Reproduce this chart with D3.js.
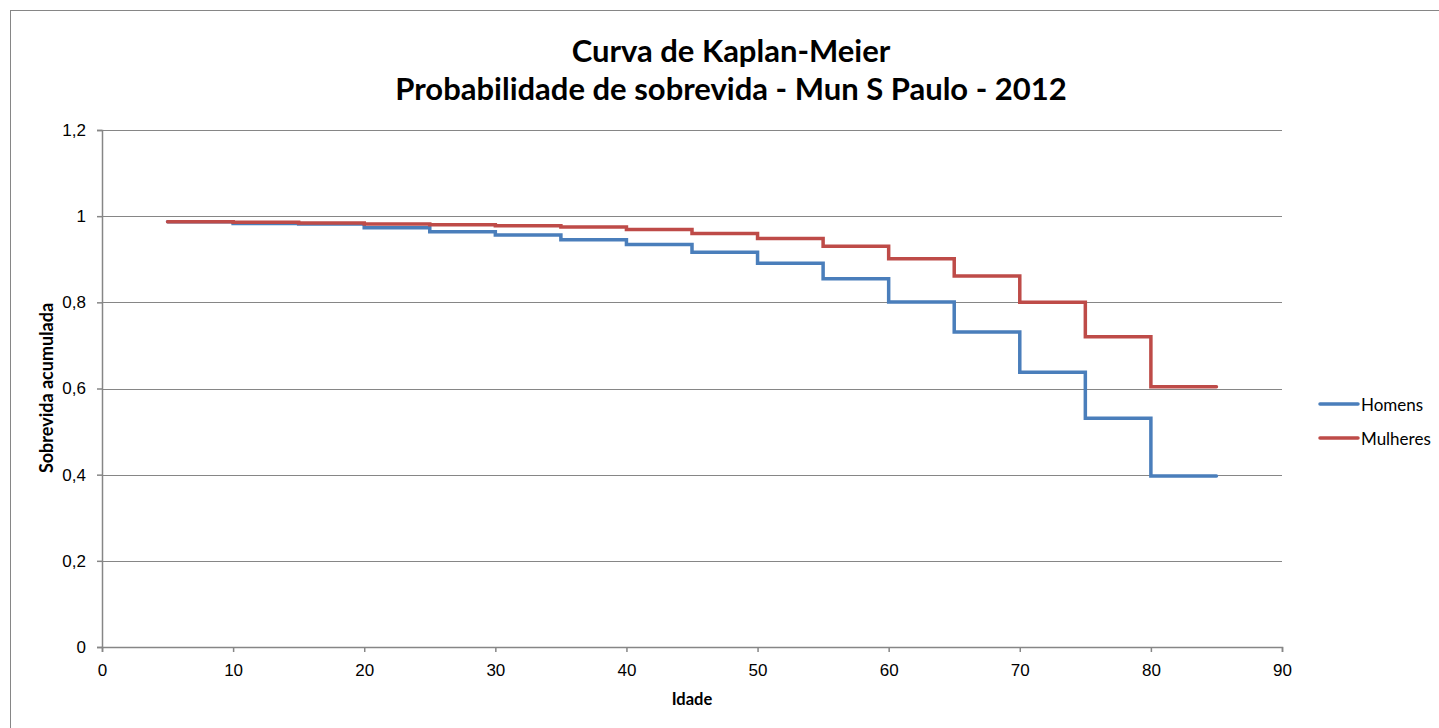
<!DOCTYPE html>
<html>
<head>
<meta charset="utf-8">
<script src="https://cdn.jsdelivr.net/npm/d3@7"></script>
<style>
  body { margin: 0; background: #fff; }
  svg { font-family: Lato, "Open Sans", sans-serif; }
</style>
</head>
<body>
<svg id="chart" width="1439" height="728"></svg>
<script>
const ages = [5, 10, 15, 20, 25, 30, 35, 40, 45, 50, 55, 60, 65, 70, 75, 80, 85]
const homens = [0.987, 0.983, 0.982, 0.973, 0.964, 0.956, 0.945, 0.934, 0.916, 0.891, 0.855, 0.801, 0.731, 0.638, 0.531, 0.397, 0.397]
const mulheres = [0.987, 0.986, 0.984, 0.982, 0.980, 0.978, 0.975, 0.969, 0.960, 0.948, 0.930, 0.901, 0.861, 0.800, 0.720, 0.604, 0.604]
const xTicks = [0, 10, 20, 30, 40, 50, 60, 70, 80, 90]
const yTicks = [0, 0.2, 0.4, 0.6, 0.8, 1, 1.2]
const seriesNames = ['Homens', 'Mulheres']
const seriesColors = ['#4A7EBB', '#BE4B48']

const svg = d3.select('#chart')

// outer chart border (runs off the right/bottom edge like the original)
svg.append('rect')
    .attr('x', 10.5).attr('y', 10.5)
    .attr('width', 1500).attr('height', 800)
    .attr('fill', 'none').attr('stroke', '#868686').attr('stroke-width', 1)

const x = d3.scaleLinear().domain([0, 90]).range([102, 1282])
const y = d3.scaleLinear().domain([0, 1.2]).range([647, 130])

// gridlines
svg.append('g')
    .selectAll('line')
    .data(yTicks.filter(d => d > 0))
    .join('line')
    .attr('x1', x(0)).attr('x2', x(90))
    .attr('y1', d => Math.round(y(d)) + 0.5).attr('y2', d => Math.round(y(d)) + 0.5)
    .attr('stroke', '#868686')

const fmt = d => String(d).replace('.', ',')

let yAxis = svg.append('g')
    .attr('transform', `translate(${x(0)},0)`)
    .call(d3.axisLeft(y).tickValues(yTicks).tickFormat(fmt).tickSize(5).tickPadding(11))
let xAxis = svg.append('g')
    .attr('transform', `translate(0,${y(0)})`)
    .call(d3.axisBottom(x).tickValues(xTicks).tickFormat(fmt).tickSize(5).tickPadding(12))

;[yAxis, xAxis].forEach(a => {
    a.selectAll('path, line').attr('stroke', '#868686').attr('stroke-width', 1.5)
    a.selectAll('text').attr('fill', '#000').style('font-size', '17px')
})

// step lines
const line = d3.line()
    .x(d => x(d[0]))
    .y(d => y(d[1]))
    .curve(d3.curveStepAfter)

;[homens, mulheres].forEach((vals, i) => {
    svg.append('path')
        .datum(ages.map((a, j) => [a, vals[j]]))
        .attr('d', line)
        .attr('fill', 'none')
        .attr('stroke', seriesColors[i])
        .attr('stroke-width', 3.5)
        .attr('stroke-linecap', 'round')
})

// title
svg.append('text')
    .attr('x', 731).attr('y', 62)
    .attr('text-anchor', 'middle')
    .style('font-size', '31px').style('font-weight', 'bold')
    .text('Curva de Kaplan-Meier')
svg.append('text')
    .attr('x', 731).attr('y', 100)
    .attr('text-anchor', 'middle')
    .style('font-size', '31px').style('font-weight', 'bold')
    .text('Probabilidade de sobrevida - Mun S Paulo - 2012')

// axis titles
svg.append('text')
    .attr('x', 692).attr('y', 705)
    .attr('text-anchor', 'middle')
    .style('font-size', '16.5px').style('font-weight', 'bold')
    .text('Idade')
svg.append('text')
    .attr('transform', 'translate(53,388) rotate(-90)')
    .attr('text-anchor', 'middle')
    .style('font-size', '18px').style('font-weight', 'bold')
    .text('Sobrevida acumulada')

// legend
let legend = svg.append('g')
    .selectAll('g')
    .data(seriesNames)
    .join('g')
    .attr('transform', (d, i) => `translate(1320,${404 + i * 34})`)
legend.append('line')
    .attr('x1', 0).attr('x2', 38)
    .attr('stroke', (d, i) => seriesColors[i])
    .attr('stroke-width', 3.5)
    .attr('stroke-linecap', 'round')
legend.append('text')
    .attr('x', 41).attr('y', 6.5)
    .style('font-size', '17px')
    .text(d => d)
</script>
</body>
</html>
